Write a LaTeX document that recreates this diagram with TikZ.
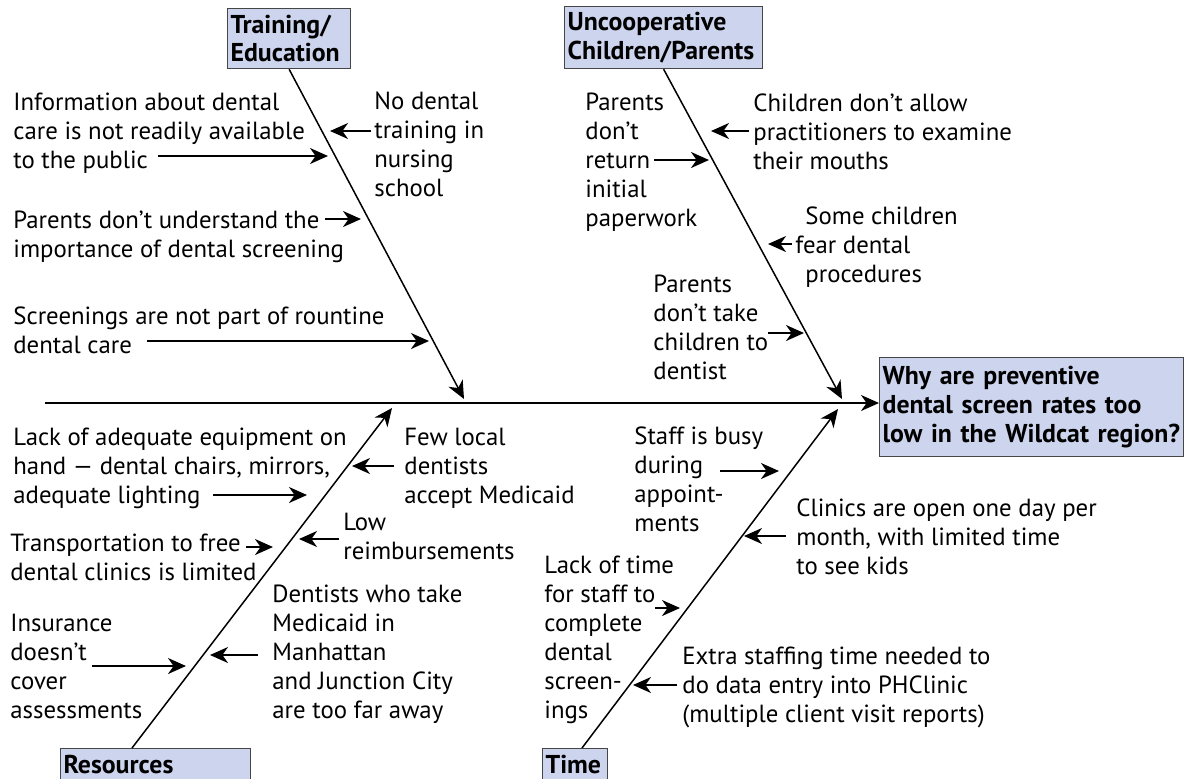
\documentclass[tikz,border=0pt]{standalone}
\usepackage{fontspec}
\setmainfont{PT Sans}
\usetikzlibrary{arrows.meta,calc}

\definecolor{headfill}{RGB}{205,212,238}
\definecolor{headline}{RGB}{70,70,70}
\newcommand{\causeFont}{\fontsize{12.4}{14.5}\selectfont}
\newcommand{\headFont}{\fontsize{12.9}{14.3}\selectfont\bfseries}

\tikzset{
    head/.style={draw=headline, fill=headfill, line width=0.6pt, anchor=north west, font=\headFont, align=left, inner xsep=1.5pt, inner ysep=0pt},
    foot/.style={head, text height=12.5pt, text depth=8pt},
    cause/.style={anchor=north west, inner sep=0pt, font=\causeFont, align=left},
    bone/.style={line width=0.75pt, -{Stealth[length=9pt,width=8pt,inset=2.8pt]}},
    arr/.style={line width=0.9pt, -{Stealth[length=9pt,width=8pt,inset=2.8pt]}}
}

\begin{document}
\begin{tikzpicture}[x=0.5pt, y=-0.5pt]
    \useasboundingbox (0,0) rectangle (1186,778);

    % Category and effect boxes
    \node [head, text width=58.5pt, minimum height=30pt] (train) at (227,8) {Training/\\Education};
    \node [head, text width=96pt, minimum height=31pt] (uncoop) at (564,6) {Uncooperative\\Children/Parents};
    \node [head, text width=149pt, minimum height=49.5pt] (effect) at (879,357) {Why are preventive\\dental screen rates too\\low in the Wildcat region?};
    \node [foot, text width=92pt] (res) at (60,748) {Resources};
    \node [foot, text width=29.5pt] (time) at (542,748) {Time};

    % Spine
    \coordinate (spine) at (45,403);
    \draw [line width=0.8pt, -{Stealth[length=9pt,width=8pt,inset=2.8pt]}] (spine) -- (spine -| effect.west);

    % Bones
    \coordinate (train-tip) at (464,399);
    \coordinate (uncoop-tip) at (842,399);
    \coordinate (res-foot) at (132,748);
    \coordinate (res-tip) at (392,408);
    \coordinate (time-foot) at (582,748);
    \coordinate (time-tip) at (838,409);
    \draw [bone] (train.south) -- (train-tip);
    \draw [bone] (uncoop.south) -- (uncoop-tip);
    \draw [bone] (res-foot) -- (res-tip);
    \draw [bone] (time-foot) -- (time-tip);

    % Causes
    \node [cause] (info) at (13,93) {Information about dental\\care is not readily available\\to the public};
    \node [cause] (notrain) at (374,91) {No dental\\training in\\nursing\\school};
    \node [cause] (importance) at (13,211) {Parents don’t understand the\\importance of dental screening};
    \node [cause] (routine) at (13,306) {Screenings are not part of rountine\\dental care};
    \node [cause] (paperwork) at (585,93) {Parents\\don’t\\return\\initial\\paperwork};
    \node [cause] (examine) at (753,93) {Children don’t allow\\practitioners to examine\\their mouths};
    \node [cause] (fear) at (805,206) {Some children\\\hspace*{-5pt}fear dental\\procedures};
    \node [cause] (dentist) at (653,275) {Parents\\don’t take\\children to\\dentist};
    \node [cause] (equip) at (13,428) {Lack of adequate equipment on\\hand — dental chairs, mirrors,\\adequate lighting};
    \node [cause] (medicaid) at (404,428) {Few local\\dentists\\accept Medicaid};
    \node [cause] (reimb) at (343,513) {Low\\reimbursements};
    \node [cause] (transport) at (10,534) {Transportation to free\\dental clinics is limited};
    \node [cause] (insur) at (10,614) {Insurance\\doesn’t\\cover\\assessments};
    \node [cause] (faraway) at (272,585) {Dentists who take\\Medicaid in\\Manhattan\\and Junction City\\are too far away};
    \node [cause] (busy) at (634,426) {Staff is busy\\during\\appoint-\\ments};
    \node [cause] (clinics) at (796,498) {Clinics are open one day per\\month, with limited time\\to see kids};
    \node [cause] (lacktime) at (544,556) {Lack of time\\for staff to\\complete\\dental\\screen-\\ings};
    \node [cause] (extra) at (682,647) {Extra staffing time needed to\\do data entry into PHClinic\\(multiple client visit reports)};

    % Cause arrows (name / tail x / tip x / y)
    \foreach \n/\tx/\hx/\y in {info/158/328/156, notrain/371/330/131, importance/325/361/219, routine/147/429/341,
        paperwork/654/709/160, examine/749/711/131, fear/792/768/244, dentist/768/804/333,
        equip/213/307/495, medicaid/394/352/466, reimb/339/299/539, transport/246/273/547,
        insur/92/186/666, faraway/258/210/655,
        busy/720/779/471, clinics/786/744/536, lacktime/655/680/608, extra/677/633/685} {
        \coordinate (\n-tail) at (\tx,\y);
        \coordinate (\n-tip) at (\hx,\y);
        \draw [arr] (\n-tail) -- (\n-tip);
    }
\end{tikzpicture}
\end{document}
